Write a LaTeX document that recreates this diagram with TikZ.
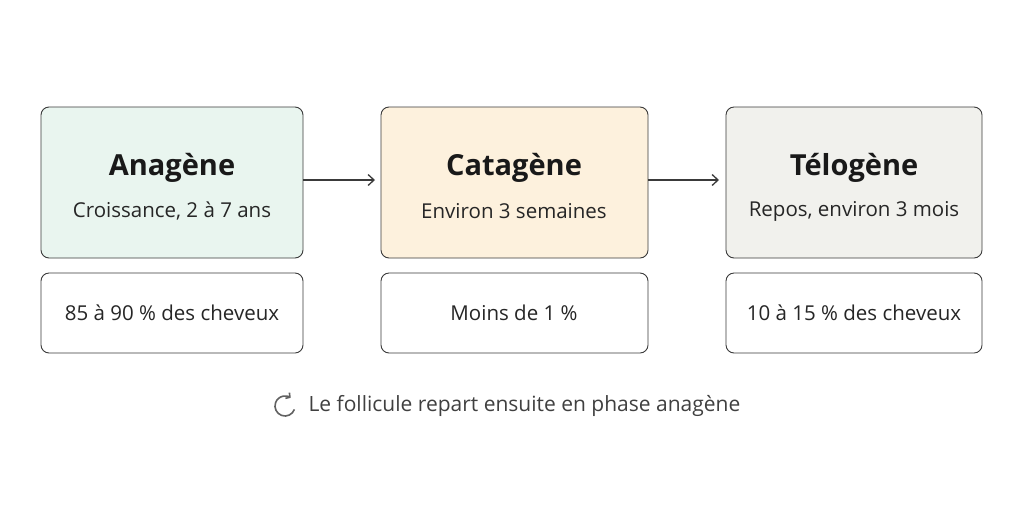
\documentclass[tikz,border=0pt]{standalone}
\usepackage{fontspec}
\setmainfont{Open Sans}
\usetikzlibrary{arrows.meta}
\definecolor{gfill}{HTML}{E9F5EF}
\definecolor{yfill}{HTML}{FDF1DD}
\definecolor{pfill}{HTML}{F1F1ED}
\definecolor{edge}{HTML}{3A3A3A}
\begin{document}
\begin{tikzpicture}[x=1pt,y=-1pt,
  box/.style={draw=edge,line width=0.9pt,rounded corners=8pt},
  title/.style={font=\bfseries\fontsize{29}{32}\selectfont,text=black!90},
  sub/.style={font=\fontsize{20.5}{23}\selectfont,text=black!85},
  arr/.style={draw=edge,line width=1.3pt,-{Straight Barb[length=6pt,width=11pt]}}]
\useasboundingbox (0,0) rectangle (1024,512);
\fill[white] (0,0) rectangle (1024,512);
% top boxes
\draw[box,fill=gfill] (41,107) rectangle (303,258);
\draw[box,fill=yfill] (381,107) rectangle (648,258);
\draw[box,fill=pfill] (726,107) rectangle (982,258);
\node[title] (at) at (172,168) {Anagène};
\node[sub] (as) at (172,211) {Croissance, 2 à 7 ans};
\node[title] (bt) at (514,168) {Catagène};
\node[sub] (bs) at (514,211) {Environ 3 semaines};
\node[title] (ct) at (854,168) {Télogène};
\node[sub] (cs) at (854,211) {Repos, environ 3 mois};
% bottom boxes
\draw[box] (41,273) rectangle (303,353);
\draw[box] (381,273) rectangle (648,353);
\draw[box] (726,273) rectangle (982,353);
\node[sub] (ad) at (172,313) {85 à 90 \% des cheveux};
\node[sub] (bd) at (514,313) {Moins de 1 \%};
\node[sub] (cd) at (854,313) {10 à 15 \% des cheveux};
% arrows
\coordinate (a1) at (303,180); \coordinate (b0) at (375,180);
\coordinate (b1) at (648,180); \coordinate (c0) at (719,180);
\draw[arr] (a1) -- (b0);
\draw[arr] (b1) -- (c0);
% footer
\node[font=\fontsize{21}{24}\selectfont,text=black!75,anchor=west] (f) at (305,406) {Le follicule repart ensuite en phase anagène};
\coordinate (ic) at (285,406);
\draw[edge!80,line width=1.6pt,-{Straight Barb[length=3pt,width=7pt]}] ([shift={(20:10)}]ic) arc[start angle=20,end angle=305,radius=10];
\end{tikzpicture}
\end{document}
